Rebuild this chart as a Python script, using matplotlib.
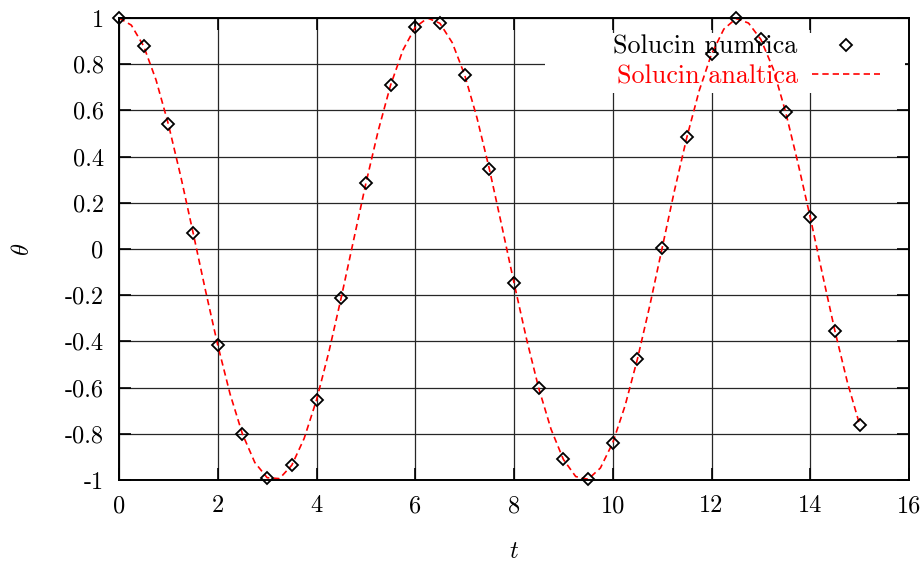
import matplotlib
matplotlib.use("Agg")
import matplotlib.pyplot as plt
from matplotlib.patches import Rectangle

plt.rcParams['font.family'] = ['cmr10', 'DejaVu Sans']
plt.rcParams['mathtext.fontset'] = 'cm'
plt.rcParams['axes.unicode_minus'] = False

# numerical solution (every 0.5)
t_num = [0, 0.5, 1, 1.5, 2, 2.5, 3, 3.5, 4, 4.5, 5, 5.5, 6, 6.5, 7, 7.5,
         8, 8.5, 9, 9.5, 10, 10.5, 11, 11.5, 12, 12.5, 13, 13.5, 14, 14.5, 15]
theta_num = [1.000, 0.878, 0.540, 0.071, -0.416, -0.801, -0.990, -0.936,
             -0.654, -0.211, 0.284, 0.709, 0.960, 0.977, 0.754, 0.347,
             -0.146, -0.602, -0.911, -0.997, -0.839, -0.476, 0.004, 0.483,
             0.844, 0.998, 0.907, 0.594, 0.137, -0.355, -0.760]

# analytic curve (every 0.25)
t_an = [0, 0.25, 0.5, 0.75, 1, 1.25, 1.5, 1.75, 2, 2.25, 2.5, 2.75, 3, 3.25,
        3.5, 3.75, 4, 4.25, 4.5, 4.75, 5, 5.25, 5.5, 5.75, 6, 6.25, 6.5, 6.75,
        7, 7.25, 7.5, 7.75, 8, 8.25, 8.5, 8.75, 9, 9.25, 9.5, 9.75, 10, 10.25,
        10.5, 10.75, 11, 11.25, 11.5, 11.75, 12, 12.25, 12.5, 12.75, 13, 13.25,
        13.5, 13.75, 14, 14.25, 14.5, 14.75, 15]
theta_an = [1.000, 0.969, 0.878, 0.732, 0.540, 0.315, 0.071, -0.178, -0.416,
            -0.628, -0.801, -0.924, -0.990, -0.994, -0.936, -0.820, -0.654,
            -0.446, -0.211, 0.037, 0.284, 0.512, 0.709, 0.861, 0.960, 1.000,
            0.977, 0.893, 0.754, 0.568, 0.347, 0.103, -0.146, -0.386, -0.602,
            -0.780, -0.911, -0.985, -0.997, -0.948, -0.839, -0.678, -0.476,
            -0.245, 0.004, 0.253, 0.483, 0.685, 0.844, 0.952, 0.998, 0.978,
            0.907, 0.780, 0.594, 0.373, 0.137, -0.112, -0.355, -0.575, -0.760]

xticks = [0, 2, 4, 6, 8, 10, 12, 14, 16]
yticks = [-1, -0.8, -0.6, -0.4, -0.2, 0, 0.2, 0.4, 0.6, 0.8, 1]
ytick_labels = ['-1', '-0.8', '-0.6', '-0.4', '-0.2', '0', '0.2', '0.4', '0.6', '0.8', '1']

fs = 17.5
fs_key = 18.8

fig = plt.figure(figsize=(9.24, 5.65), dpi=100)
ax = fig.add_axes([119/924, 1 - 480/565, 790/924, 462/565])

ax.set_xlim(0, 16)
ax.set_ylim(-1, 1)
ax.set_xticks(xticks)
ax.set_xticklabels([str(v) for v in xticks])
ax.set_yticks(yticks)
ax.set_yticklabels(ytick_labels)
ax.tick_params(direction='in', length=8.5, width=1.2, labelsize=fs,
               top=True, right=True, pad=11)
for s in ax.spines.values():
    s.set_linewidth(1.4)

ax.set_axisbelow(True)
ax.grid(True, color='0.15', linewidth=0.9)

# white key box (hides grid behind the key)
ax.add_patch(Rectangle((0.539, 0.837), 0.456, 0.13, transform=ax.transAxes,
                       facecolor='white', edgecolor='none', zorder=1))

ax.plot(t_num, theta_num, linestyle='none', marker='D', markersize=6.3,
        markerfacecolor='none', markeredgecolor='black', markeredgewidth=1.3,
        label='Solucin numrica', zorder=3, clip_on=False)
ax.plot(t_an, theta_an, color='red', linewidth=1.2, dashes=(3.8, 2.4),
        label='Solucin analtica', zorder=2)

leg = ax.legend(loc='upper right', bbox_to_anchor=(0.963, 0.963),
                frameon=False, markerfirst=False, fontsize=fs_key,
                handlelength=2.6, handletextpad=0.55, labelspacing=0.22,
                borderpad=0, borderaxespad=0)
leg.set_zorder(1.5)
for txt in leg.get_texts():
    txt.set_ha('right')
leg.get_texts()[1].set_color('red')

ax.set_xlabel('$t$', fontsize=fs, labelpad=17)
ax.set_ylabel(r'$\theta$', fontsize=fs, labelpad=22)

fig.savefig('out.png', dpi=100)
